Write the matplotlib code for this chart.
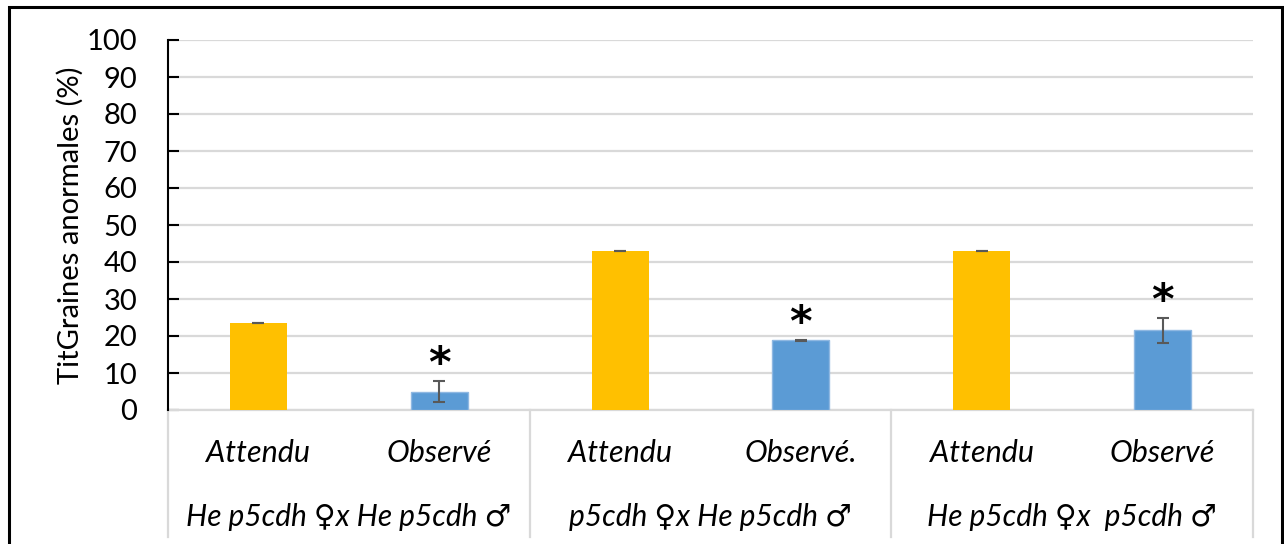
import matplotlib
matplotlib.use("Agg")
import matplotlib.pyplot as plt
import matplotlib.patches as patches
import matplotlib.transforms as mtransforms
import numpy as np

plt.rcParams['font.family'] = ['Lato', 'DejaVu Sans']

# crosses and the two conditions in each
crosses = ['He p5cdh \u2640x He p5cdh \u2642',
           'p5cdh \u2640x He p5cdh \u2642',
           'He p5cdh \u2640x  p5cdh \u2642']
cond_labels = ['Attendu', 'Observ\u00e9',
               'Attendu', 'Observ\u00e9.',
               'Attendu', 'Observ\u00e9']

attendu = [23.4, 43.1, 43.1]
attendu_err = [0.0, 0.0, 0.0]
observe = [5.0, 18.8, 21.5]
observe_err = [2.9, 0.2, 3.4]
significant = [True, True, True]

ylabel = 'TitGraines anormales (%)'

orange = '#FFC000'
blue = '#5B9BD5'
grid_col = '#D9D9D9'
err_col = '#595959'

fig = plt.figure(figsize=(12.84, 5.44), dpi=100)
ax = fig.add_axes([168 / 1284, 1 - 410 / 544, 1085 / 1284, 370 / 544])

x_att = np.arange(len(crosses)) * 2
x_obs = x_att + 1
w = 0.315

ax.bar(x_att, attendu, width=w, color=orange, zorder=3)
ax.bar(x_obs, observe, width=w, color=blue, edgecolor='#8FB8E2', linewidth=1, zorder=3)
ax.errorbar(x_att, attendu, yerr=attendu_err, fmt='none', ecolor=err_col,
            elinewidth=1.5, capsize=4.5, capthick=1.5, zorder=4)
ax.errorbar(x_obs, observe, yerr=observe_err, fmt='none', ecolor=err_col,
            elinewidth=1.5, capsize=4.5, capthick=1.5, zorder=4)

# significance stars above the observed bars
for xi, v, e, s in zip(x_obs, observe, observe_err, significant):
    if s:
        ax.text(xi, v + e + 4.2, '*', ha='center', va='center',
                fontsize=31, fontweight='bold', family='DejaVu Sans', zorder=5)

ax.set_xlim(-0.5, 5.5)
ax.set_ylim(0, 100)
ax.set_yticks(np.arange(0, 101, 10))
ax.set_xticks([])
ax.yaxis.grid(True, color=grid_col, linewidth=1.6, zorder=0)
ax.set_axisbelow(True)

for side in ['top', 'right']:
    ax.spines[side].set_visible(False)
ax.spines['left'].set_color('black')
ax.spines['left'].set_linewidth(1.5)
ax.spines['left'].set_zorder(6)
ax.spines['bottom'].set_color(grid_col)
ax.spines['bottom'].set_linewidth(1.6)
ax.tick_params(axis='y', direction='in', length=8, width=1.5, pad=22,
               labelsize=21, colors='black')
ax.set_ylabel(ylabel, fontsize=21, labelpad=2)

# two-level category axis below the plot
trans = mtransforms.blended_transform_factory(ax.transData, ax.transAxes)
for xd in [-0.5, 1.5, 3.5, 5.5]:
    ax.plot([xd, xd], [0, -0.343], color=grid_col, lw=1.6, transform=trans,
            clip_on=False)
for xi, lab in zip(np.arange(6), cond_labels):
    ax.text(xi, -0.116, lab, transform=trans, ha='center', va='center',
            fontsize=22, style='italic')
for gx, lab in zip(x_att + 0.5, crosses):
    ax.text(gx, -0.289, lab, transform=trans, ha='center', va='center',
            fontsize=21.5, style='italic')

# chart frame
fig.patches.append(patches.Rectangle((9 / 1284, -0.05), 1272.5 / 1284, 1.05 - 7 / 544,
                                     transform=fig.transFigure, fill=False,
                                     edgecolor='black', linewidth=2.2))

fig.savefig('out.png', dpi=100)
